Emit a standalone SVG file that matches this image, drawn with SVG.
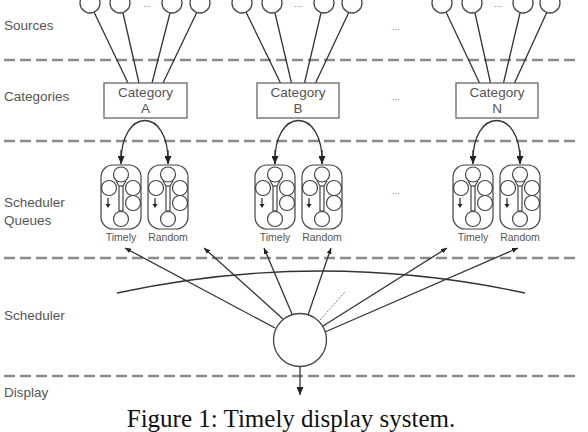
<svg xmlns="http://www.w3.org/2000/svg" width="588" height="432" viewBox="0 0 588 432">
<style>
.lbl{font-family:"Liberation Sans",Arial,sans-serif;font-size:13.5px;fill:#555}
.ql{font-family:"Liberation Sans",Arial,sans-serif;font-size:10.5px;fill:#555;text-anchor:middle}
.ct{font-family:"Liberation Sans",Arial,sans-serif;font-size:13.5px;fill:#555;text-anchor:middle}
.dots{font-family:"Liberation Sans",Arial,sans-serif;font-size:9px;fill:#777;text-anchor:middle}
.sep{stroke:#8a8a8a;stroke-width:2.6;stroke-dasharray:11 5;fill:none}
.ln{stroke:#333;stroke-width:1.3;fill:none}
.box{fill:#fff;stroke:#666;stroke-width:1.3}
.src{fill:#fff;stroke:#444;stroke-width:1.3}
.q{fill:none;stroke:#444;stroke-width:1.2}
</style>
<defs>
<marker id="ah" markerUnits="userSpaceOnUse" markerWidth="9" markerHeight="7" refX="8" refY="3.5" orient="auto">
<path d="M0,0 L8,3.5 L0,7 z" fill="#222"/>
</marker>
<marker id="as" markerUnits="userSpaceOnUse" markerWidth="7" markerHeight="5" refX="6" refY="2.5" orient="auto">
<path d="M0,0 L6,2.5 L0,5 z" fill="#222"/>
</marker>
<g id="qshape" class="q">
<rect x="-20" y="0" width="40" height="64" rx="12"/>
<circle cx="0" cy="9.5" r="7.5"/>
<circle cx="-12" cy="23" r="7.5"/>
<circle cx="12" cy="23" r="7.5"/>
<circle cx="12" cy="38" r="7.5"/>
<circle cx="0" cy="54" r="7.5"/>
<rect x="-2" y="21" width="4" height="25"/>
<path d="M-5,16 L-2,21 M5,16 L2,21"/>
<path d="M-13,33 L-13,40" stroke="#222"/>
<path d="M-15.5,39 L-10.5,39 L-13,43 z" fill="#222" stroke="none"/>
</g>
</defs>
<rect width="588" height="432" fill="#fff"/>

<g id="separators">
<line class="sep" x1="4" y1="60" x2="580" y2="60"/>
<line class="sep" x1="4" y1="141" x2="580" y2="141"/>
<line class="sep" x1="4" y1="258" x2="580" y2="258"/>
<line class="sep" x1="4" y1="376" x2="580" y2="376"/>
</g>

<g id="layer-labels">
<text class="lbl" x="4" y="30">Sources</text>
<text class="lbl" x="4" y="101">Categories</text>
<text class="lbl" x="4" y="207">Scheduler</text>
<text class="lbl" x="4" y="225">Queues</text>
<text class="lbl" x="4" y="320">Scheduler</text>
<text class="lbl" x="4" y="397">Display</text>
</g>

<g id="connectors">
<path class="ln" d="M94,12 L128,83 M123,13 L139,83 M170,13 L152,83 M197,12 L163,83"/>
<path class="ln" d="M246,12 L280.5,83 M275,13 L291.5,83 M321,13 L304.5,83 M349,12 L315.5,83"/>
<path class="ln" d="M446,12 L479.5,83 M475,13 L490.5,83 M520,13 L503.5,83 M547,12 L514.5,83"/>
<path class="ln" d="M168,164 C170,106 120,106 121,164"/>
<path class="ln" d="M121,150 L121.2,164" marker-end="url(#ah)"/>
<path class="ln" d="M168,150 L168,164" marker-end="url(#ah)"/>
<path class="ln" d="M322,164 C324,106 273,106 275,164"/>
<path class="ln" d="M275,150 L275,164" marker-end="url(#ah)"/>
<path class="ln" d="M322,150 L322,164" marker-end="url(#ah)"/>
<path class="ln" d="M520,164 C522,106 471,106 473,164"/>
<path class="ln" d="M473,150 L473,164" marker-end="url(#ah)"/>
<path class="ln" d="M520,150 L520,164" marker-end="url(#ah)"/>
<path class="ln" d="M117,293 Q321,249 525,293" stroke="#444"/>
<path class="ln" d="M275,328 L125,248" marker-end="url(#as)"/>
<path class="ln" d="M283,319 L204,248" marker-end="url(#as)"/>
<path class="ln" d="M292,314 L264,248" marker-end="url(#as)"/>
<path class="ln" d="M308,315 L331,248" marker-end="url(#as)"/>
<path class="ln" d="M323,326 L447,248" marker-end="url(#as)"/>
<path class="ln" d="M325,332 L518,248" marker-end="url(#as)"/>
<path d="M320,320 L345,292" stroke="#777" stroke-width="1" stroke-dasharray="2 1.5" fill="none"/>
<path class="ln" d="M300,367 L300,395" marker-end="url(#ah)"/>
</g>

<g id="sources-A">
<circle class="src" cx="90" cy="3" r="10"/>
<circle class="src" cx="120" cy="3" r="10"/>
<circle class="src" cx="172" cy="3" r="10"/>
<circle class="src" cx="200" cy="3" r="10"/>
<text class="dots" x="147" y="7">...</text>
</g>
<g id="sources-B">
<circle class="src" cx="242" cy="3" r="10"/>
<circle class="src" cx="272" cy="3" r="10"/>
<circle class="src" cx="324" cy="3" r="10"/>
<circle class="src" cx="352" cy="3" r="10"/>
<text class="dots" x="298" y="7">...</text>
</g>
<g id="sources-N">
<circle class="src" cx="442" cy="3" r="10"/>
<circle class="src" cx="472" cy="3" r="10"/>
<circle class="src" cx="523" cy="3" r="10"/>
<circle class="src" cx="550" cy="3" r="10"/>
<text class="dots" x="498" y="7">...</text>
</g>
<text class="dots" x="396" y="30">...</text>

<g id="category-A">
<rect class="box" x="104" y="83" width="83" height="35"/>
<text class="ct" x="145.5" y="97">Category</text>
<text class="ct" x="145.5" y="113">A</text>
</g>
<g id="category-B">
<rect class="box" x="257" y="83" width="82" height="35"/>
<text class="ct" x="298" y="97">Category</text>
<text class="ct" x="298" y="113">B</text>
</g>
<g id="category-N">
<rect class="box" x="456" y="83" width="82" height="35"/>
<text class="ct" x="497" y="97">Category</text>
<text class="ct" x="497" y="113">N</text>
</g>
<text class="dots" x="396" y="100">...</text>

<g id="queue-A-timely"><use href="#qshape" x="121" y="165"/><text class="ql" x="121" y="241">Timely</text></g>
<g id="queue-A-random"><use href="#qshape" x="168" y="165"/><text class="ql" x="168" y="241">Random</text></g>
<g id="queue-B-timely"><use href="#qshape" x="275" y="165"/><text class="ql" x="275" y="241">Timely</text></g>
<g id="queue-B-random"><use href="#qshape" x="322" y="165"/><text class="ql" x="322" y="241">Random</text></g>
<g id="queue-N-timely"><use href="#qshape" x="473" y="165"/><text class="ql" x="473" y="241">Timely</text></g>
<g id="queue-N-random"><use href="#qshape" x="520" y="165"/><text class="ql" x="520" y="241">Random</text></g>
<text class="dots" x="396" y="194">...</text>

<g id="scheduler">
<circle cx="300" cy="340" r="26.5" fill="#fff" stroke="#444" stroke-width="1.3"/>
</g>

<text x="291" y="427" font-family="'Liberation Serif','Times New Roman',serif" font-size="25" fill="#111" text-anchor="middle">Figure 1: Timely display system.</text>
</svg>
